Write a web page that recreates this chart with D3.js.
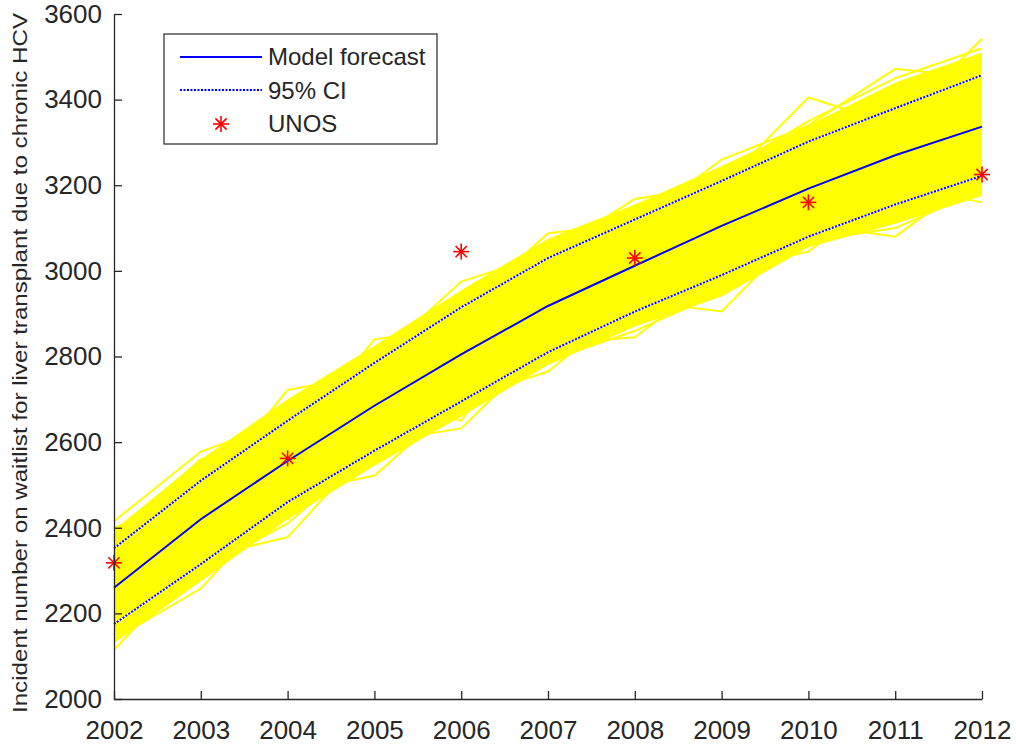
<!DOCTYPE html>
<html>
<head>
<meta charset="utf-8">
<script src="https://cdn.jsdelivr.net/npm/d3@7"></script>
<style>
  body { margin: 0; background: #fff; }
  text { font-family: "Liberation Sans", Arial, sans-serif; fill: #262626; }
</style>
</head>
<body>
<div class="canvas"></div>
<script>
// data
const years = [2002, 2003, 2004, 2005, 2006, 2007, 2008, 2009, 2010, 2011, 2012];
const forecast = [2260, 2420, 2556, 2685, 2805, 2918, 3012, 3105, 3192, 3270, 3337];
const ciUpper = [2352, 2510, 2650, 2785, 2915, 3030, 3120, 3210, 3302, 3380, 3457];
const ciLower = [2175, 2315, 2460, 2580, 2695, 2810, 2905, 2990, 3080, 3155, 3222];
const unosYears = [2002, 2004, 2006, 2008, 2010, 2012];
const unos = [2318, 2562, 3045, 3030, 3160, 3225];

// dense core of the simulation runs
const runsUpper = [2395, 2560, 2700, 2825, 2955, 3075, 3155, 3245, 3340, 3440, 3510];
const runsLower = [2130, 2275, 2420, 2545, 2660, 2780, 2870, 2940, 3055, 3110, 3175];
// a few of the outlying runs
const runs = [
  [2415, 2578, 2650, 2790, 2975, 3040, 3168, 3200, 3405, 3340, 3542],
  [2400, 2470, 2722, 2760, 2905, 3088, 3110, 3260, 3340, 3472, 3450],
  [2380, 2560, 2590, 2840, 2870, 3060, 3140, 3230, 3350, 3450, 3520],
  [2115, 2330, 2378, 2600, 2632, 2830, 2845, 3000, 3045, 3200, 3160],
  [2140, 2258, 2480, 2522, 2700, 2765, 2930, 2905, 3110, 3080, 3230],
  [2150, 2300, 2410, 2590, 2680, 2790, 2860, 2950, 3070, 3100, 3190],
  [2290, 2440, 2420, 2710, 2650, 2940, 2880, 3150, 3100, 3300, 3200]
];
const yTicks = [2000, 2200, 2400, 2600, 2800, 3000, 3200, 3400, 3600];

const width = 1016, height = 746;
const margin = {top: 14, right: 34, bottom: 47, left: 114};

const svg = d3.select('.canvas')
  .append('svg')
    .attr('width', width)
    .attr('height', height);

const x = d3.scaleLinear()
  .domain([2002, 2012])
  .range([margin.left, width - margin.right]);

const y = d3.scaleLinear()
  .domain([2000, 3600])
  .range([height - margin.bottom, margin.top]);

const plot = svg.append('g');

// yellow band of runs
const band = d3.area()
  .x((d, i) => x(years[i]))
  .y0((d, i) => y(runsLower[i]))
  .y1(d => y(d));

plot.append('path')
  .datum(runsUpper)
  .attr('d', band)
  .attr('fill', '#ffff00');

const line = d3.line()
  .x((d, i) => x(years[i]))
  .y(d => y(d));

plot.selectAll('.run').data(runs)
  .enter().append('path')
    .attr('class', 'run')
    .attr('d', line)
    .attr('fill', 'none')
    .attr('stroke', '#ffff00')
    .attr('stroke-width', 2);

// confidence interval lines
[ciUpper, ciLower].forEach(ci => {
  plot.append('path')
    .datum(ci)
    .attr('d', line)
    .attr('fill', 'none')
    .attr('stroke', '#ffffff')
    .attr('stroke-width', 1.5);
  plot.append('path')
    .datum(ci)
    .attr('d', line)
    .attr('fill', 'none')
    .attr('stroke', '#0000ff')
    .attr('stroke-width', 2)
    .attr('stroke-dasharray', '2,1.5');
});

plot.append('path')
  .datum(forecast)
  .attr('d', line)
  .attr('fill', 'none')
  .attr('stroke', '#0000ff')
  .attr('stroke-width', 2);

// asterisk marker like matlab '*'
function star(g, cx, cy, r) {
  const d = r * 0.707;
  const segs = [[-r, 0, r, 0], [0, -r, 0, r], [-d, -d, d, d], [-d, d, d, -d]];
  segs.forEach(s => {
    g.append('line')
      .attr('x1', cx + s[0]).attr('y1', cy + s[1])
      .attr('x2', cx + s[2]).attr('y2', cy + s[3])
      .attr('stroke', '#ff0000')
      .attr('stroke-width', 1.6);
  });
}

unos.forEach((v, i) => star(plot, x(unosYears[i]), y(v), 8));

// axes
const xAxis = d3.axisBottom(x)
  .tickValues(years)
  .tickFormat(d3.format('d'))
  .tickSizeInner(-8)
  .tickSizeOuter(0)
  .tickPadding(22);

const yAxis = d3.axisLeft(y)
  .tickValues(yTicks)
  .tickFormat(d3.format('d'))
  .tickSizeInner(-8)
  .tickSizeOuter(0)
  .tickPadding(12);

const gx = svg.append('g')
  .attr('transform', `translate(0,${height - margin.bottom})`)
  .call(xAxis);

const gy = svg.append('g')
  .attr('transform', `translate(${margin.left},0)`)
  .call(yAxis);

[gx, gy].forEach(g => {
  g.select('.domain').attr('stroke', '#262626').attr('stroke-width', 1.3);
  g.selectAll('.tick line').attr('stroke', '#262626').attr('stroke-width', 1.3);
  g.selectAll('.tick text')
    .style('font-family', '"Liberation Sans", Arial, sans-serif')
    .style('font-size', '26px')
    .attr('fill', '#262626');
});
gx.selectAll('.tick text').attr('dy', 0).attr('y', 40);

svg.append('text')
  .attr('transform', `translate(27,${363}) rotate(-90)`)
  .attr('text-anchor', 'middle')
  .attr('textLength', 700)
  .attr('lengthAdjust', 'spacingAndGlyphs')
  .style('font-size', '20px')
  .text('Incident number on waitlist for liver transplant due to chronic HCV');

// legend
const legend = svg.append('g');
legend.append('rect')
  .attr('x', 164).attr('y', 34)
  .attr('width', 273).attr('height', 110)
  .attr('fill', '#fff')
  .attr('stroke', '#262626')
  .attr('stroke-width', 1.2);

legend.append('line')
  .attr('x1', 180).attr('x2', 262)
  .attr('y1', 57).attr('y2', 57)
  .attr('stroke', '#0000ff').attr('stroke-width', 2);
legend.append('line')
  .attr('x1', 180).attr('x2', 262)
  .attr('y1', 90).attr('y2', 90)
  .attr('stroke', '#0000ff').attr('stroke-width', 2)
  .attr('stroke-dasharray', '2,1.5');
star(legend, 221, 124, 8);

const labels = ['Model forecast', '95% CI', 'UNOS'];
labels.forEach((t, i) => {
  legend.append('text')
    .attr('x', 268)
    .attr('y', 57 + i * 33.5)
    .attr('dy', '0.35em')
    .style('font-size', '24px')
    .attr('fill', '#000')
    .text(t);
});
</script>
</body>
</html>
